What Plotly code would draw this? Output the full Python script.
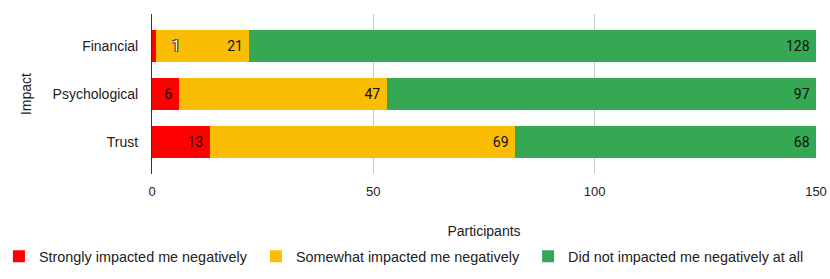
import plotly.graph_objects as go

categories = ["Financial", "Psychological", "Trust"]
strongly = [1, 6, 13]
somewhat = [21, 47, 69]
not_at_all = [128, 97, 68]
series_names = ["Strongly impacted me negatively", "Somewhat impacted me negatively",
                "Did not impacted me negatively at all"]
colors = ["#ff0000", "#fbbc04", "#34a853"]
x_ticks = [0, 50, 100, 150]

AX_FONT = "Liberation Sans, Arial, sans-serif"
BAR_FONT = "Roboto, sans-serif"

fig = go.Figure()
series = [strongly, somewhat, not_at_all]
for name, vals, col in zip(series_names, series, colors):
    texts = [(str(v) + "\u00a0") if v >= 3 else "" for v in vals]
    fig.add_trace(go.Bar(
        y=categories, x=vals, name=name + "\u00a0", orientation="h",
        marker=dict(color=col, line=dict(width=0)),
        text=texts, textposition="inside", insidetextanchor="end",
        textangle=0, constraintext="none",
        textfont=dict(family=BAR_FONT, size=14, color="#111111"),
        hoverinfo="skip",
    ))

# tiny segments: label placed next to the bar (white text with dark outline)
annotations = []
for vals_i, vals in enumerate(series):
    base = [sum(s[j] for s in series[:vals_i]) for j in range(len(categories))]
    for j, v in enumerate(vals):
        if v < 3:
            annotations.append(dict(
                x=base[j] + v, y=categories[j], xref="x", yref="y",
                text=str(v), showarrow=False, xanchor="left", xshift=14,
                font=dict(family=BAR_FONT, size=14, color="#ffffff",
                          shadow="1px 1px 0 #333, -1px -1px 0 #333, 1px -1px 0 #333, -1px 1px 0 #333"),
            ))

fig.update_layout(
    width=830, height=279,
    margin=dict(l=152, r=14, t=14, b=105, autoexpand=False),
    barmode="stack", bargap=0.333,
    plot_bgcolor="white", paper_bgcolor="white",
    font=dict(family=AX_FONT, size=14, color="#222222"),
    showlegend=True,
    legend=dict(orientation="h", x=-0.2305, xanchor="left", xref="paper",
                y=-0.415, yanchor="top", yref="paper",
                font=dict(family=AX_FONT, size=14.4, color="#222222"),
                traceorder="normal", itemwidth=30, bgcolor="rgba(0,0,0,0)"),
    annotations=annotations,
)
fig.update_xaxes(
    range=[0, 150], tickvals=x_ticks, ticktext=[str(t) for t in x_ticks],
    showgrid=True, gridcolor="#cccccc", gridwidth=1,
    zeroline=False, showline=False, automargin=True,
    tickfont=dict(family=AX_FONT, size=13, color="#222222"),
    ticks="", ticklabelstandoff=8,
    title=dict(text="Participants", font=dict(family=AX_FONT, size=14, color="#222222"), standoff=28),
    fixedrange=True,
)
fig.update_yaxes(
    categoryorder="array", categoryarray=categories,
    range=[2.667, -0.667], autorange=False,
    showline=True, linecolor="#333333", linewidth=1,
    showgrid=False, zeroline=False, automargin=True,
    ticks="", ticklabelstandoff=10,
    tickfont=dict(family=AX_FONT, size=14, color="#222222"),
    title=dict(text="Impact", font=dict(family=AX_FONT, size=14, color="#222222"), standoff=17),
    fixedrange=True,
)

fig.write_html("out.html", config={"displayModeBar": False},
               post_script="document.body.style.margin='0';document.body.style.padding='0';")
